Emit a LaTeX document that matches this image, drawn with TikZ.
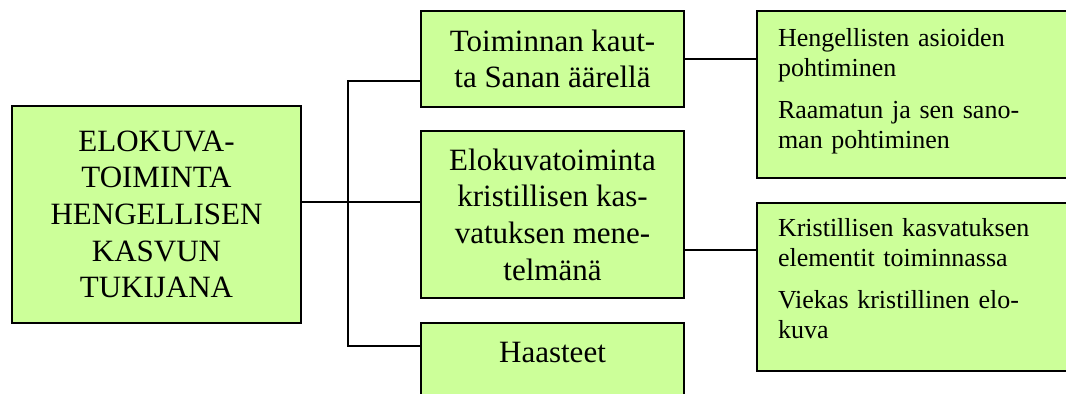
\documentclass[tikz,border=0pt]{standalone}
\usepackage{fontspec}
\setmainfont{Liberation Serif}
\usetikzlibrary{calc}
\definecolor{boxgreen}{RGB}{204,255,153}
\newcommand{\bigtext}{\fontsize{23.25pt}{27.5pt}\selectfont}
\newcommand{\smalltext}{\fontsize{19.5pt}{22.5pt}\selectfont}

\begin{document}
\begin{tikzpicture}
    [
        x=0.75pt, y=-0.75pt,
        box/.style={draw=black, line width=1.5pt, fill=boxgreen, inner sep=0pt, anchor=north west},
        mainbox/.style={box, font=\bigtext, align=center, minimum width=197.25pt},
        notebox/.style={box, font=\smalltext, align=left, inner xsep=15.75pt, text width=219pt},
        link/.style={black, line width=1.5pt}
    ]
    \useasboundingbox (0,0) rectangle (1066,393);
    \clip (0,0) rectangle (1066,393);

    % left: main topic
    \node[mainbox, minimum width=216.75pt, minimum height=162.75pt] (root) at (11,105)
        {ELOKUVA-\\TOIMINTA\\HENGELLISEN\\KASVUN\\TUKIJANA};

    % middle column
    \node[mainbox, minimum height=72pt] (kautta) at (420,10)
        {Toiminnan kaut-\\ta Sanan äärellä};
    \node[mainbox, minimum height=125.25pt] (menetelma) at (420,130)
        {Elokuvatoiminta\\kristillisen kas-\\vatuksen mene-\\telmänä};
    \node[mainbox, minimum height=60pt, text depth=16pt] (haasteet) at (420,322)
        {Haasteet};

    % right column
    \node[notebox, minimum height=125.25pt] (pohdinta) at (756,10)
        {Hengellisten asioiden\\pohtiminen\\[9.5pt]Raamatun ja sen sano-\\man pohtiminen\rule[-9pt]{0pt}{9pt}};
    \node[notebox, minimum height=126pt] (elementit) at (756,202)
        {Kristillisen kasvatuksen\\elementit toiminnassa\\[9.5pt]Viekas kristillinen elo-\\kuva\rule[-12.75pt]{0pt}{12.75pt}};

    % connectors
    \coordinate (jA) at (348,81);
    \coordinate (jB) at (348,202);
    \coordinate (jC) at (348,346);
    \coordinate (kB) at (720,250);
    \draw[link] (root.east |- jB) -- (jB);
    \draw[link] (jA -| kautta.west) -- (jA) -- (jC) -- (jC -| haasteet.west);
    \draw[link] (jB) -- (jB -| menetelma.west);
    \draw[link] (kautta.east) -- (kautta.east -| pohdinta.west);
    \draw[link] (kB -| menetelma.east) -- (kB -| elementit.west);
\end{tikzpicture}
\end{document}
